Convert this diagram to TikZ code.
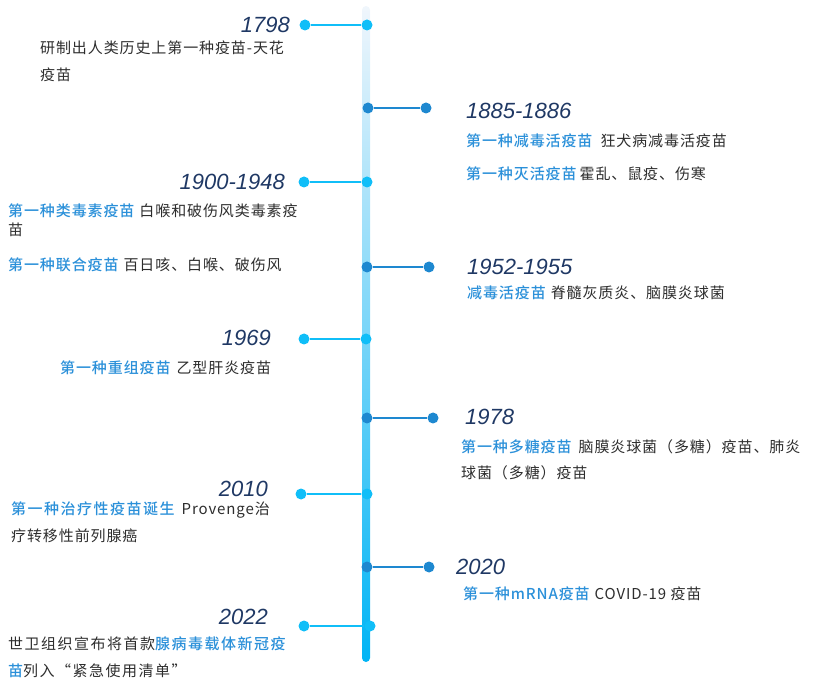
\documentclass[tikz,border=0pt]{standalone}
\usepackage{fontspec}
\setmainfont{Noto Sans CJK SC}[LetterSpace=6]
\newfontfamily\hlfont{Noto Sans CJK SC Medium}[LetterSpace=6]
\newfontfamily\widefont{Noto Sans CJK SC}[LetterSpace=10]
\newfontfamily\widehlfont{Noto Sans CJK SC Medium}[LetterSpace=10]
\newfontfamily\yearfont{Liberation Sans}
\definecolor{barlight}{RGB}{240,246,252}
\definecolor{bardark}{RGB}{0,180,245}
\definecolor{lightdot}{RGB}{16,190,248}
\definecolor{darkdot}{RGB}{30,136,208}
\definecolor{yearblue}{RGB}{31,56,100}
\definecolor{hlblue}{RGB}{43,144,217}
\definecolor{bodygray}{RGB}{45,45,45}
\newcommand{\hl}[1]{{\hlfont\color{hlblue}#1}}
\newcommand{\hlw}[1]{{\widehlfont\color{hlblue}#1}}
\tikzset{
  ldot/.style={circle, fill=lightdot, inner sep=0pt, minimum size=11pt},
  rdot/.style={circle, fill=darkdot, inner sep=0pt, minimum size=11pt},
  lline/.style={lightdot, line width=2.8pt},
  rline/.style={darkdot, line width=2.8pt},
  year/.style={inner sep=0pt, text=yearblue, font=\yearfont\itshape\fontsize{22}{26}\selectfont},
  desc/.style={inner sep=0pt, anchor=west, text=bodygray, font=\fontsize{15}{18}\selectfont},
  widedesc/.style={desc, font=\widefont\fontsize{15}{18}\selectfont}
}
\begin{document}
\begin{tikzpicture}[x=1pt, y=-1pt]
        \useasboundingbox (0,0) rectangle (815,679);
        \shade[top color=barlight, bottom color=bardark, rounded corners=4pt] (362,6) rectangle (370,662);
        \node[ldot] (a1) at (305,25) {};   \node[ldot] (b1) at (367,25) {};   \draw[lline] (a1) -- (b1);
        \node[ldot] (a2) at (304,182) {};  \node[ldot] (b2) at (367,182) {};  \draw[lline] (a2) -- (b2);
        \node[ldot] (a3) at (304,339) {};  \node[ldot] (b3) at (366,339) {};  \draw[lline] (a3) -- (b3);
        \node[ldot] (a4) at (301,494) {};  \node[ldot] (b4) at (367,494) {};  \draw[lline] (a4) -- (b4);
        \node[ldot] (a5) at (304,626) {};  \node[ldot] (b5) at (370,626) {};  \draw[lline] (a5) -- (b5);
        \node[rdot] (c1) at (368,108) {};  \node[rdot] (d1) at (426,108) {};  \draw[rline] (c1) -- (d1);
        \node[rdot] (c2) at (367,267) {};  \node[rdot] (d2) at (429,267) {};  \draw[rline] (c2) -- (d2);
        \node[rdot] (c3) at (367,418) {};  \node[rdot] (d3) at (433,418) {};  \draw[rline] (c3) -- (d3);
        \node[rdot] (c4) at (367,567) {};  \node[rdot] (d4) at (429,567) {};  \draw[rline] (c4) -- (d4);
        \node[year, anchor=east] (y1798) at (290,25) {1798};
        \node[year, anchor=east] (y1900) at (285,182) {1900-1948};
        \node[year, anchor=east] (y1969) at (271,338) {1969};
        \node[year, anchor=east] (y2010) at (268,489) {2010};
        \node[year, anchor=east] (y2022) at (268,617) {2022};
        \node[year, anchor=west] (y1885) at (466,111) {1885-1886};
        \node[year, anchor=west] (y1952) at (467,267) {1952-1955};
        \node[year, anchor=west] (y1978) at (465,417) {1978};
        \node[year, anchor=west] (y2020) at (456,567) {2020};
        \node[desc] (t1798a) at (40,48) {研制出人类历史上第一种疫苗-天花};
        \node[desc] (t1798b) at (40,75) {疫苗};
        \node[desc] (t1900a) at (8,211) {\hl{第一种类毒素疫苗}\hspace{5pt}白喉和破伤风类毒素疫};
        \node[desc] (t1900b) at (8,230) {苗};
        \node[desc] (t1900c) at (8,265) {\hl{第一种联合疫苗}\hspace{5pt}百日咳、白喉、破伤风};
        \node[desc] (t1969) at (60,368) {\hl{第一种重组疫苗}\hspace{6pt}乙型肝炎疫苗};
        \node[desc] (t2010a) at (11,510) {\hlw{第一种治疗性疫苗诞生}\hspace{7pt}Provenge治};
        \node[desc] (t2010b) at (11,536) {疗转移性前列腺癌};
        \node[widedesc] (t2022a) at (8,644) {世卫组织宣布将首款\hlw{腺病毒载体新冠疫}};
        \node[widedesc] (t2022b) at (8,671) {\hlw{苗}列入“紧急使用清单”};
        \node[desc] (t1885a) at (466,141) {\hl{第一种减毒活疫苗}\hspace{8pt}狂犬病减毒活疫苗};
        \node[desc] (t1885b) at (466,174) {\hl{第一种灭活疫苗}\hspace{3pt}霍乱、鼠疫、伤寒};
        \node[desc] (t1952) at (467,293) {\hl{减毒活疫苗}\hspace{5pt}脊髓灰质炎、脑膜炎球菌};
        \node[desc] (t1978a) at (461,447) {\hl{第一种多糖疫苗}\hspace{7pt}脑膜炎球菌（多糖）疫苗、肺炎};
        \node[desc] (t1978b) at (461,473) {球菌（多糖）疫苗};
        \node[desc] (t2020) at (463,594) {\hl{第一种mRNA疫苗}\hspace{5pt}COVID-19 疫苗};
    \end{tikzpicture}
\end{document}
